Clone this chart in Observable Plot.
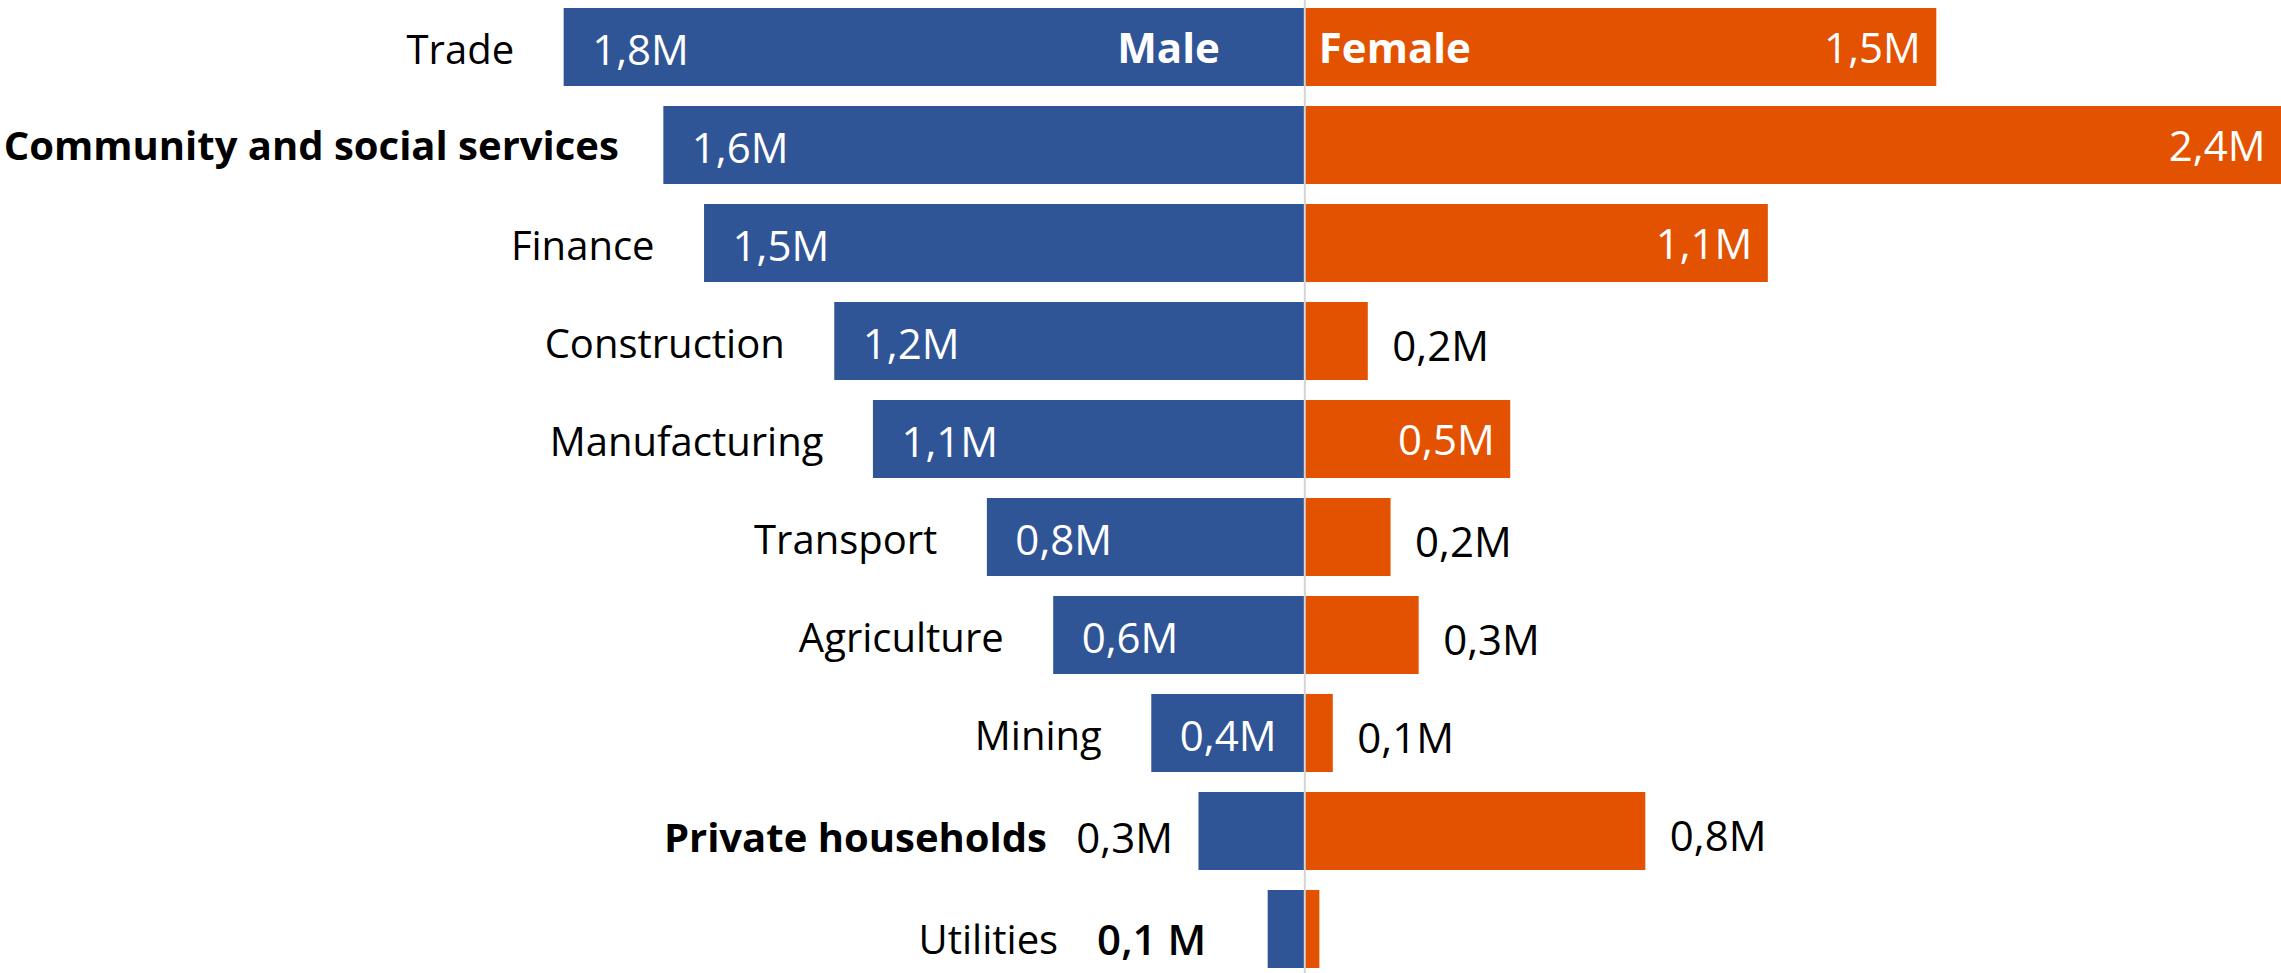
<!DOCTYPE html>
<html>
<head>
<meta charset="utf-8">
<script src="https://cdn.jsdelivr.net/npm/d3@7"></script>
<script src="https://cdn.jsdelivr.net/npm/@observablehq/plot@0.6"></script>
<style>
  html, body { margin: 0; padding: 0; background: #fff; overflow: hidden; }
  #chart svg { display: block; }
</style>
</head>
<body>
<div id="chart"></div>
<script>
// ---- data ----
const categories = ["Trade", "Community and social services", "Finance", "Construction", "Manufacturing", "Transport", "Agriculture", "Mining", "Private households", "Utilities"];
const male   = [1.82, 1.575, 1.475, 1.155, 1.06, 0.78, 0.617, 0.376, 0.26, 0.09];
const female = [1.553, 2.4, 1.139, 0.156, 0.506, 0.212, 0.281, 0.07, 0.838, 0.037];
const maleLabels   = ["1,8M", "1,6M", "1,5M", "1,2M", "1,1M", "0,8M", "0,6M", "0,4M", "0,3M", "0,1 M"];
const femaleLabels = ["1,5M", "2,4M", "1,1M", "0,2M", "0,5M", "0,2M", "0,3M", "0,1M", "0,8M", ""];
const seriesNames = ["Male", "Female"];
const boldCategories = ["Community and social services", "Private households"];
const maleOutside = ["Private households", "Utilities"];
const femaleOutside = ["Construction", "Transport", "Agriculture", "Mining", "Private households"];

const BLUE = "#2F5597";
const ORANGE = "#E35200";
const FONT = "'Open Sans', 'Noto Sans', sans-serif";

const rows = categories.map((c, i) => ({
  category: c, male: male[i], female: female[i],
  maleLabel: maleLabels[i], femaleLabel: femaleLabels[i]
}));

const isBold = d => boldCategories.includes(d.category);
const maleIn = rows.filter(d => !maleOutside.includes(d.category));
const maleOutA = rows.filter(d => d.category === maleOutside[0]);
const maleOutB = rows.filter(d => d.category === maleOutside[1]);
const femIn = rows.filter(d => !femaleOutside.includes(d.category) && d.femaleLabel);
const femOut = rows.filter(d => femaleOutside.includes(d.category) && d.femaleLabel);
const catNormal = rows.filter(d => !maleOutside.includes(d.category) && !isBold(d));
const catBold = rows.filter(d => !maleOutside.includes(d.category) && isBold(d));

const chart = Plot.plot({
  width: 2281,
  height: 973,
  margin: 0,
  style: {fontFamily: FONT, background: "#fff"},
  x: {domain: [-3.205, 2.4], range: [0, 2281], axis: null},
  y: {domain: categories, range: [-14, 991], padding: 0.2, axis: null},
  marks: [
    Plot.barX(rows, {y: "category", x1: 0, x2: d => -d.male, fill: BLUE}),
    Plot.barX(rows, {y: "category", x1: 0, x2: "female", fill: ORANGE}),
    Plot.ruleX([0], {stroke: "#d4d4d4", strokeWidth: 2}),
    // male value labels
    Plot.text(maleIn, {y: "category", x: d => -d.male, text: "maleLabel", textAnchor: "start", dx: 28, dy: 4, fill: "#fff", fontSize: 42}),
    Plot.text(maleOutA, {y: "category", x: d => -d.male, text: "maleLabel", textAnchor: "end", dx: -26, dy: 8, fill: "#000", fontSize: 42}),
    Plot.text(maleOutB, {y: "category", x: d => -d.male, text: "maleLabel", textAnchor: "end", dx: -62, dy: 12, fill: "#000", fontSize: 42, fontWeight: 600}),
    // female value labels
    Plot.text(femIn, {y: "category", x: "female", text: "femaleLabel", textAnchor: "end", dx: -16, dy: 2, fill: "#fff", fontSize: 42}),
    Plot.text(femOut, {y: "category", x: "female", text: "femaleLabel", textAnchor: "start", dx: 24, dy: 6, fill: "#000", fontSize: 42}),
    // category labels
    Plot.text(catNormal, {y: "category", x: d => -d.male, text: "category", textAnchor: "end", dx: -50, dy: 4, fill: "#000", fontSize: 40}),
    Plot.text(catBold, {y: "category", x: d => -d.male, text: "category", textAnchor: "end", dx: -45, dy: 2, fill: "#000", fontSize: 40, fontWeight: "bold"}),
    Plot.text(maleOutA, {y: "category", x: d => -d.male, text: "category", textAnchor: "end", dx: -152, dy: 8, fill: "#000", fontSize: 40, fontWeight: "bold"}),
    Plot.text(maleOutB, {y: "category", x: d => -d.male, text: "category", textAnchor: "end", dx: -210, dy: 12, fill: "#000", fontSize: 40}),
    // series headers inside the first row
    Plot.text([rows[0]], {y: "category", x: 0, text: () => seriesNames[0], textAnchor: "end", dx: -85, dy: 2, fill: "#fff", fontSize: 42, fontWeight: "bold"}),
    Plot.text([rows[0]], {y: "category", x: 0, text: () => seriesNames[1], textAnchor: "start", dx: 14, dy: 2, fill: "#fff", fontSize: 42, fontWeight: "bold"})
  ]
});
document.getElementById("chart").appendChild(chart);
</script>
</body>
</html>
